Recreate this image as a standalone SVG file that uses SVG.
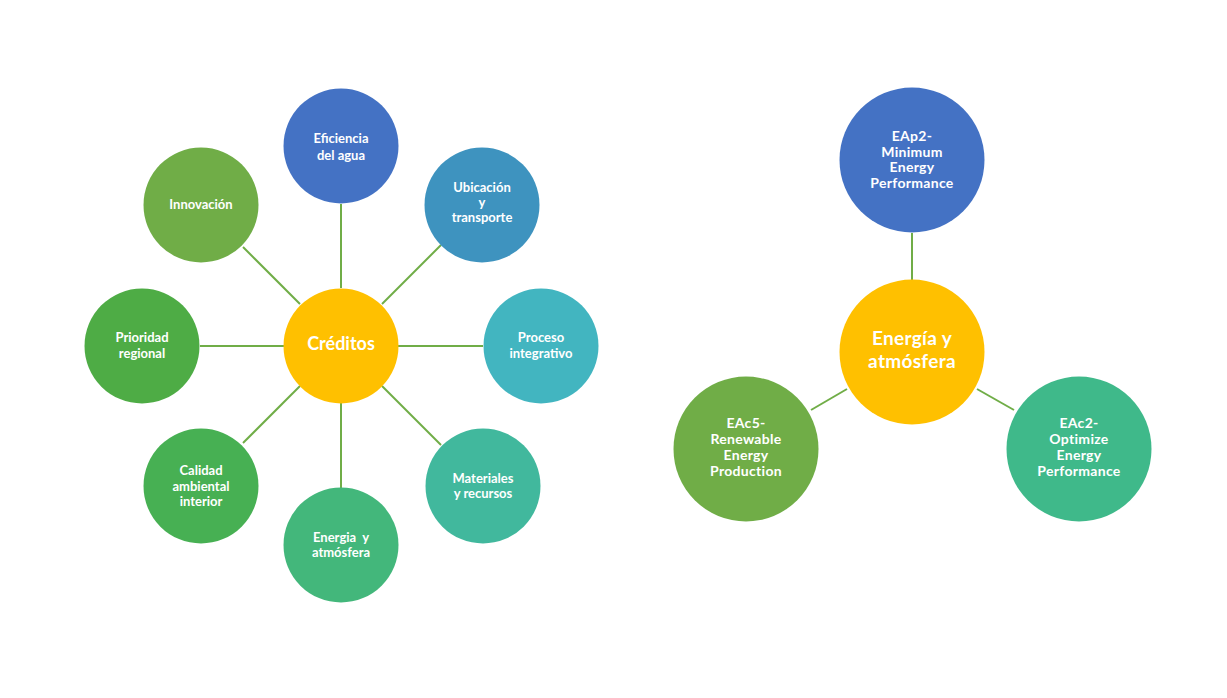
<svg xmlns="http://www.w3.org/2000/svg" width="1227" height="698" viewBox="0 0 1227 698">
<style>
.bg{fill:#ffffff}
.c{stroke:none}
.ln{stroke:#70AD47;stroke-width:2;fill:none}
.t{font-family:Lato,"Open Sans","Liberation Sans",sans-serif;font-weight:bold;fill:#ffffff;text-anchor:middle;font-size:13px}
.tr{font-size:14px;letter-spacing:0.3px}
.big{font-size:18px}
.big2{font-size:19px;letter-spacing:0.3px}
</style>
<rect class="bg" x="0" y="0" width="1227" height="698"/>
<g id="connectors">
<line class="ln" x1="341" y1="288" x2="341" y2="204"/>
<line class="ln" x1="300" y1="304" x2="243" y2="247"/>
<line class="ln" x1="382" y1="304" x2="441" y2="245"/>
<line class="ln" x1="284" y1="346" x2="200" y2="346"/>
<line class="ln" x1="398" y1="346" x2="483" y2="346"/>
<line class="ln" x1="300" y1="386" x2="243" y2="443"/>
<line class="ln" x1="341" y1="403" x2="341" y2="488"/>
<line class="ln" x1="382" y1="386" x2="441" y2="445"/>
<line class="ln" x1="912" y1="233" x2="912" y2="280"/>
<line class="ln" x1="847" y1="389" x2="811" y2="410"/>
<line class="ln" x1="977" y1="389" x2="1014" y2="410"/>
</g>
<g id="n-creditos"><circle class="c" cx="341" cy="346" r="57.5" fill="#FFC000"/><text class="t big" x="341" y="350">Créditos</text></g>
<g id="n-eficiencia"><circle class="c" cx="341" cy="146" r="57.5" fill="#4472C4"/><text class="t" x="341" y="143">Eficiencia</text><text class="t" x="341" y="160">del agua</text></g>
<g id="n-innovacion"><circle class="c" cx="201" cy="205" r="57.5" fill="#70AD47"/><text class="t" x="201" y="209">Innovación</text></g>
<g id="n-ubicacion"><circle class="c" cx="482" cy="205" r="57.5" fill="#3E93BF"/><text class="t" x="482" y="192">Ubicación</text><text class="t" x="482" y="207">y</text><text class="t" x="482" y="222">transporte</text></g>
<g id="n-prioridad"><circle class="c" cx="142" cy="346" r="57.5" fill="#4EAC45"/><text class="t" x="142" y="342">Prioridad</text><text class="t" x="142" y="358">regional</text></g>
<g id="n-proceso"><circle class="c" cx="541" cy="346" r="57.5" fill="#42B5C0"/><text class="t" x="541" y="342">Proceso</text><text class="t" x="541" y="358">integrativo</text></g>
<g id="n-calidad"><circle class="c" cx="201" cy="486" r="57.5" fill="#47B053"/><text class="t" x="201" y="475">Calidad</text><text class="t" x="201" y="491">ambiental</text><text class="t" x="201" y="506">interior</text></g>
<g id="n-energia"><circle class="c" cx="341" cy="545" r="57.5" fill="#43B77B"/><text class="t" x="341" y="542" xml:space="preserve">Energia  y</text><text class="t" x="341" y="557">atmósfera</text></g>
<g id="n-materiales"><circle class="c" cx="483" cy="486" r="57.5" fill="#41B89D"/><text class="t" x="483" y="483">Materiales</text><text class="t" x="483" y="498">y recursos</text></g>
<g id="n-energia-atm"><circle class="c" cx="912" cy="352" r="72.5" fill="#FFC000"/><text class="t big2" x="912" y="345">Energía y</text><text class="t big2" x="912" y="368">atmósfera</text></g>
<g id="n-eap2"><circle class="c" cx="912" cy="160" r="72.5" fill="#4472C4"/><text class="t tr" x="912" y="141">EAp2-</text><text class="t tr" x="912" y="157">Minimum</text><text class="t tr" x="912" y="172">Energy</text><text class="t tr" x="912" y="188">Performance</text></g>
<g id="n-eac5"><circle class="c" cx="746" cy="449" r="72.5" fill="#70AD47"/><text class="t tr" x="746" y="428">EAc5-</text><text class="t tr" x="746" y="444">Renewable</text><text class="t tr" x="746" y="460">Energy</text><text class="t tr" x="746" y="476">Production</text></g>
<g id="n-eac2"><circle class="c" cx="1079" cy="449" r="72.5" fill="#3FB98A"/><text class="t tr" x="1079" y="428">EAc2-</text><text class="t tr" x="1079" y="444">Optimize</text><text class="t tr" x="1079" y="460">Energy</text><text class="t tr" x="1079" y="476">Performance</text></g>
</svg>
